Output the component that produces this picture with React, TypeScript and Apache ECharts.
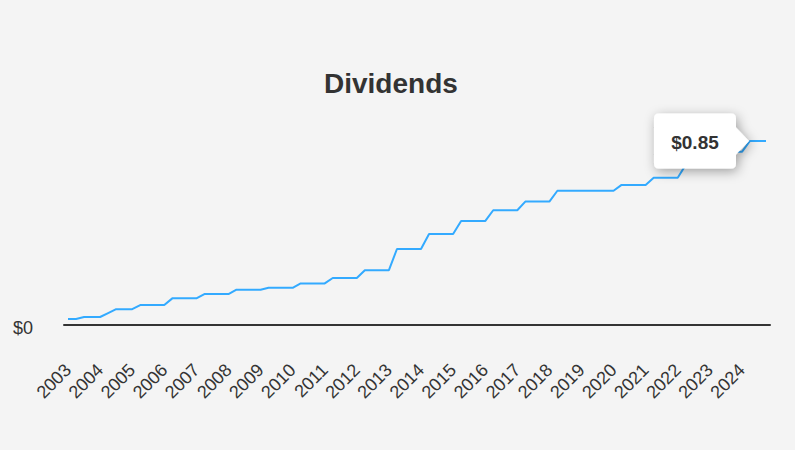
import React, { useEffect, useRef } from "react";
import * as echarts from "echarts";

const years = [
  2003, 2004, 2005, 2006, 2007, 2008, 2009, 2010, 2011, 2012, 2013,
  2014, 2015, 2016, 2017, 2018, 2019, 2020, 2021, 2022, 2023, 2024,
];

const quarters = ["Q1", "Q2", "Q3", "Q4"];

// Quarterly dividend per share, 2003 Q1 .. 2024 Q4
const dividends = [
  0.028, 0.028, 0.037, 0.037, // 2003
  0.037, 0.055, 0.073, 0.073, // 2004
  0.073, 0.092, 0.092, 0.092, // 2005
  0.092, 0.123, 0.123, 0.123, // 2006
  0.123, 0.143, 0.143, 0.143, // 2007
  0.143, 0.163, 0.163, 0.163, // 2008
  0.163, 0.172, 0.172, 0.172, // 2009
  0.172, 0.192, 0.192, 0.192, // 2010
  0.192, 0.217, 0.217, 0.217, // 2011
  0.217, 0.253, 0.253, 0.253, // 2012
  0.253, 0.351, 0.351, 0.351, // 2013
  0.351, 0.42, 0.42, 0.42, // 2014
  0.42, 0.48, 0.48, 0.48, // 2015
  0.48, 0.53, 0.53, 0.53, // 2016
  0.53, 0.57, 0.57, 0.57, // 2017
  0.57, 0.62, 0.62, 0.62, // 2018
  0.62, 0.62, 0.62, 0.62, // 2019
  0.62, 0.647, 0.647, 0.647, // 2020
  0.647, 0.68, 0.68, 0.68, // 2021
  0.68, 0.74, 0.74, 0.74, // 2022
  0.74, 0.8, 0.8, 0.8, // 2023
  0.8, 0.85, 0.85, 0.85, // 2024
];

const highlightIndex = 85; // 2024 Q2

const categories: string[] = [];
years.forEach((y) => quarters.forEach((q) => categories.push(`${y} ${q}`)));

const FONT = "'Liberation Sans', Arial, Helvetica, sans-serif";

const calloutPath =
  "path://M5,0 L77,0 Q82,0 82,5 L82,14 L95,27.5 L82,41 L82,50 Q82,55 77,55 L5,55 Q0,55 0,50 L0,5 Q0,0 5,0 Z";

export default function App() {
  const ref = useRef<HTMLDivElement>(null);

  useEffect(() => {
    if (!ref.current) return;
    const chart = echarts.init(ref.current, undefined, { renderer: "svg" });
    chart.setOption({
      animation: false,
      backgroundColor: "#f4f4f4",
      textStyle: { fontFamily: FONT },
      title: {
        text: "Dividends",
        left: 319,
        top: 64,
        textStyle: { fontSize: 28, fontWeight: "bold", color: "#333", fontFamily: FONT },
      },
      grid: { left: 64, right: 25, top: 108.5, bottom: 125 },
      xAxis: {
        type: "category",
        data: categories,
        boundaryGap: true,
        axisLine: { onZero: true, lineStyle: { color: "#333", width: 2 } },
        axisTick: { show: false },
        splitLine: { show: false },
        axisLabel: {
          interval: 0,
          rotate: 45,
          margin: 42,
          fontSize: 18,
          color: "#333",
          fontFamily: FONT,
          formatter: (v: string, i: number) => (i % 4 === 0 ? v.split(" ")[0] : ""),
        },
      },
      yAxis: {
        type: "value",
        min: 0,
        max: 1,
        interval: 1,
        axisLine: { show: false },
        axisTick: { show: false },
        splitLine: { show: false },
        axisLabel: {
          margin: 31,
          fontSize: 18,
          color: "#333",
          fontFamily: FONT,
          formatter: (v: number) => (v === 0 ? "{a|$0}" : ""),
          rich: {
            a: { fontSize: 18, color: "#333", fontFamily: FONT, padding: [6, 0, 0, 0] },
          },
        },
      },
      series: [
        {
          type: "line",
          data: dividends,
          showSymbol: false,
          symbol: "none",
          lineStyle: { color: "#33aaff", width: 2 },
          itemStyle: { color: "#33aaff" },
          markPoint: {
            z: 10,
            symbol: calloutPath,
            symbolSize: [95, 55],
            symbolOffset: ["-51%", 0],
            itemStyle: {
              color: "#ffffff",
              shadowBlur: 12,
              shadowColor: "rgba(0,0,0,0.35)",
              shadowOffsetX: 2,
              shadowOffsetY: 3,
            },
            label: {
              show: true,
              offset: [-6.5, 2],
              fontSize: 19,
              fontWeight: "bold",
              color: "#333",
              fontFamily: FONT,
              formatter: (p: any) => "$" + Number(p.value).toFixed(2),
            },
            data: [
              {
                coord: [categories[highlightIndex], dividends[highlightIndex]],
                value: dividends[highlightIndex],
              },
            ],
          },
        },
      ],
    });
    return () => chart.dispose();
  }, []);

  return (
    <div
      ref={ref}
      style={{ position: "fixed", left: 0, top: 0, width: 795, height: 450 }}
    />
  );
}
